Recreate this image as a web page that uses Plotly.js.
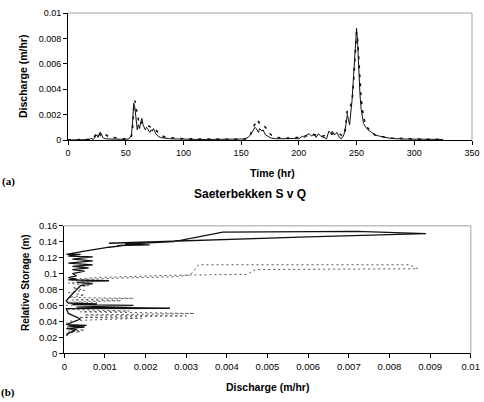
<!DOCTYPE html>
<html><head><meta charset="utf-8">
<script src="https://cdn.plot.ly/plotly-3.0.1.min.js"></script>
<style>html,body{margin:0;padding:0;background:#fff}#chart{width:484px;height:402px}</style>
</head><body><div id="chart"></div>
<script>
// (a) Discharge time series
const obsT = [0,10,18,20,22,24,25,26,27,28,29,30,32,35,40,45,50,53,55,56,57,58,59,60,61,62,63,64,65,66,67,68,69,70,71,72,73,74,75,76,78,80,84,88,95,100,110,120,130,140,150,153,156,158,160,162,163,164,165,166,167,168,169,170,171,173,176,180,185,190,195,200,203,205,207,209,211,213,215,217,219,221,224,226,228,229,231,233,235,237,239,241,242,243,244,245,246,247,248,249,250,251,252,253,254,255,256,258,260,263,266,270,275,280,290,300,310,320,325];
const obsQ = [0,0.00002,0.00003,0.00012,0.00005,0.0003,0.0004,0.0002,0.0005,0.0003,0.0005,0.0002,0.0001,0.00008,0.00006,0.00005,0.00005,0.0001,0.0004,0.0015,0.0029,0.0025,0.0013,0.0008,0.0012,0.0009,0.0014,0.0017,0.0012,0.0009,0.0008,0.001,0.0009,0.0007,0.0006,0.0008,0.0007,0.0009,0.0007,0.0005,0.0003,0.0002,0.00015,0.0001,0.00008,0.00006,0.00005,0.00004,0.00004,0.00004,0.00004,0.00008,0.0002,0.0004,0.0007,0.001,0.0009,0.0007,0.0006,0.0009,0.0008,0.0007,0.0008,0.0006,0.0004,0.0003,0.00015,0.0001,0.00008,0.0001,0.00012,0.0001,0.0003,0.0002,0.0004,0.0005,0.0003,0.0005,0.0002,0.0005,0.0003,0.0002,0.0001,0.0007,0.0005,0.0007,0.0004,0.0006,0.0002,0.0001,0.0004,0.0013,0.002,0.0016,0.0012,0.0022,0.003,0.0045,0.006,0.0078,0.0088,0.0075,0.0052,0.0035,0.0024,0.0017,0.0013,0.001,0.0008,0.0006,0.0004,0.0003,0.0002,0.00012,0.00008,0.00006,0.00005,0.00004,0.00004];
const simT = [0,20,23,25,27,28,30,33,36,40,45,52,55,56,57,58,59,60,61,62,64,66,68,70,72,74,76,78,80,85,90,100,110,130,150,155,158,160,162,164,166,168,170,172,174,176,180,185,190,200,205,210,215,220,225,230,235,238,240,242,244,246,247,248,249,250,251,252,253,254,256,258,260,263,266,270,275,280,290,300,310,320,325];
const simQ = [0,0.00005,0.0003,0.0005,0.0003,0.0006,0.0004,0.0004,0.0002,0.0002,0.0001,0.00008,0.0003,0.001,0.0027,0.0031,0.0024,0.0022,0.0016,0.0012,0.0014,0.0013,0.0012,0.0011,0.001,0.0009,0.0008,0.0006,0.0004,0.0002,0.00015,0.0001,0.00008,0.00006,0.00005,0.0001,0.0004,0.0009,0.0013,0.0016,0.0013,0.0011,0.0011,0.0009,0.0006,0.0004,0.0002,0.00015,0.00015,0.0002,0.0003,0.0004,0.0004,0.0003,0.0004,0.0005,0.0005,0.0003,0.0006,0.0024,0.0025,0.003,0.004,0.0056,0.0075,0.0085,0.0078,0.006,0.0045,0.0032,0.0018,0.0012,0.0009,0.0006,0.0004,0.0003,0.0002,0.00015,0.0001,0.00008,0.00006,0.00005,0.00005];

// (b) Storage vs discharge
const obsLoopQ = [0.00005,0.0001,0.0003,0.00005,0.0005,0.0001,0.00055,0.00005,0.0004,0.0001,0.00005,0.0026,0.0003,0.0017,0.0002,0.0008,0.0001,0.00005,0.0001,0.0003,0.0004,0.0007,0.0003,0.0011,0.0001,0.0003,0.0001,0.0003,0.0002,0.0005,0.0002,0.0006,0.0002,0.0007,0.0001,0.0007,0.0002,0.0007,0.0001,0.0004,0.00005,0.0005,0.0011,0.0016,0.0013,0.0021,0.0015,0.0027,0.0032,0.0039,0.0072,0.0089,0.006,0.003,0.0011];
const obsLoopS = [0.022,0.025,0.03,0.031,0.033,0.034,0.035,0.036,0.043,0.05,0.056,0.0565,0.058,0.06,0.061,0.062,0.063,0.066,0.069,0.08,0.085,0.087,0.089,0.091,0.092,0.093,0.095,0.097,0.1,0.103,0.105,0.107,0.109,0.111,0.113,0.116,0.118,0.121,0.122,0.124,0.124,0.128,0.133,0.136,0.135,0.136,0.137,0.14,0.145,0.152,0.153,0.15,0.146,0.141,0.138];
const simLoopQ = [0.00005,0.0004,0.0001,0.0005,0.0001,0.00005,0.0002,0.0019,0.0003,0.003,0.0005,0.0032,0.0004,0.0016,0.0001,0.00005,0.0008,0.0001,0.0014,0.0002,0.0017,0.0001,0.0005,0.0001,0.0005,0.0002,0.0006,0.0001,0.0007,0.0002,0.0012,0.0027,0.0031,0.0033,0.0085,0.0087,0.0047,0.0045,0.0028,0.0008,0.0002];
const simLoopS = [0.025,0.027,0.028,0.029,0.03,0.038,0.041,0.044,0.045,0.047,0.048,0.05,0.052,0.053,0.055,0.06,0.063,0.064,0.066,0.067,0.069,0.07,0.073,0.076,0.079,0.082,0.085,0.088,0.09,0.092,0.094,0.096,0.098,0.111,0.111,0.106,0.105,0.099,0.098,0.095,0.093];

const xTicksA = [0,50,100,150,200,250,300,350];
const yTicksA = [0,0.002,0.004,0.006,0.008,0.01];
const xTicksB = [0,0.001,0.002,0.003,0.004,0.005,0.006,0.007,0.008,0.009,0.01];
const yTicksB = [0,0.02,0.04,0.06,0.08,0.1,0.12,0.14,0.16];

const W = 484, H = 402;
const font = 'Liberation Sans, Arial, sans-serif';
const traces = [
  {x: obsT, y: obsQ, xaxis:'x', yaxis:'y', mode:'lines', line:{color:'#111', width:1}, hoverinfo:'skip'},
  {x: simT, y: simQ, xaxis:'x', yaxis:'y', mode:'lines', line:{color:'#111', width:1.6, dash:'3px,6px'}, hoverinfo:'skip'},
  {x: simLoopQ, y: simLoopS, xaxis:'x2', yaxis:'y2', mode:'lines', line:{color:'#555', width:1, dash:'2px,3px'}, hoverinfo:'skip'},
  {x: obsLoopQ, y: obsLoopS, xaxis:'x2', yaxis:'y2', mode:'lines', line:{color:'#111', width:1.3}, hoverinfo:'skip'}
];
function ax(dom, tv, rng, anchor, fs){
  return {domain: dom, range: rng, tickvals: tv, ticktext: tv.map(v=>String(v)), showgrid:false, zeroline:false,
    showline:true, linecolor:'#000', linewidth:1, ticks:'outside', ticklen:4, tickcolor:'#000',
    tickfont:{family:font, size:fs, color:'#000'}, anchor: anchor, fixedrange:true};
}
function ann(text, x, y, size, extra){
  return Object.assign({text:text, x:x/W, y:1-y/H, xref:'paper', yref:'paper', showarrow:false,
    xanchor:'center', yanchor:'middle', font:{family:font, size:size, color:'#000'}}, extra||{});
}
const layout = {
  width: W, height: H, margin:{l:0,r:0,t:0,b:0}, showlegend:false,
  paper_bgcolor:'#fff', plot_bgcolor:'#fff',
  xaxis: ax([68/W, 472/W], xTicksA, [0,350], 'y', 9),
  yaxis: ax([1-140/H, 1-13/H], yTicksA, [0,0.01], 'x', 9),
  xaxis2: ax([64.3/W, 470.7/W], xTicksB, [0,0.01], 'y2', 9.5),
  yaxis2: ax([1-353.3/H, 1-225.7/H], yTicksB, [0,0.16], 'x2', 9.5),
  shapes: [
    {type:'line', xref:'x domain', yref:'y domain', x0:0, x1:1, y0:1, y1:1, line:{color:'#c0c0c0', width:1.5}},
    {type:'line', xref:'x domain', yref:'y domain', x0:1, x1:1, y0:0, y1:1, line:{color:'#c0c0c0', width:1.5}},
    {type:'line', xref:'x2 domain', yref:'y2 domain', x0:0, x1:1, y0:1, y1:1, line:{color:'#c0c0c0', width:1.5}},
    {type:'line', xref:'x2 domain', yref:'y2 domain', x0:1, x1:1, y0:0, y1:1, line:{color:'#c0c0c0', width:1.5}}
  ],
  annotations: [
    ann('<b>Time (hr)</b>', 272, 173, 10.5),
    ann('<b>Discharge (m/hr)</b>', 23, 77, 10.5, {textangle:-90}),
    ann('<b>(a)</b>', 8, 181, 11, {font:{family:'Liberation Serif, serif', size:11, color:'#000'}}),
    ann('<b>Saeterbekken S v Q</b>', 250, 194, 12),
    ann('<b>Discharge (m/hr)</b>', 267, 387, 10.5),
    ann('<b>Relative Storage (m)</b>', 25, 283, 10, {textangle:-90}),
    ann('<b>(b)</b>', 8, 392, 11, {font:{family:'Liberation Serif, serif', size:11, color:'#000'}})
  ]
};
Plotly.newPlot('chart', traces, layout, {staticPlot:true, displayModeBar:false});
</script></body></html>
